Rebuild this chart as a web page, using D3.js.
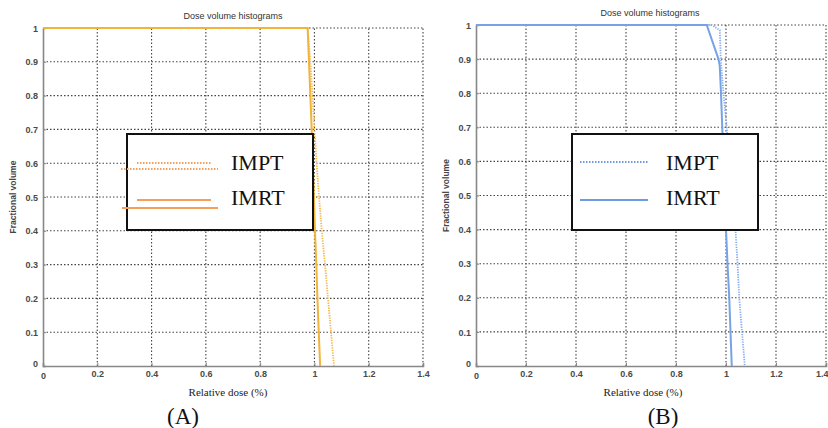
<!DOCTYPE html>
<html>
<head>
<meta charset="utf-8">
<script src="https://cdn.jsdelivr.net/npm/d3@7"></script>
<style>
  body { margin: 0; background: #fff; }
  svg { display: block; }
</style>
</head>
<body>
<div id="chart"></div>
<script>
// DVH curves: [relative dose, fractional volume]
const imptA = [[0, 1], [0.975, 1], [0.985, 0.9], [0.993, 0.8], [1.0, 0.7], [1.008, 0.6], [1.017, 0.5], [1.027, 0.4], [1.039, 0.3], [1.05, 0.2], [1.061, 0.1], [1.072, 0]];
const imrtA = [[0, 1], [0.975, 1], [0.98, 0.9], [0.985, 0.8], [0.99, 0.7], [0.994, 0.6], [0.998, 0.5], [1.002, 0.4], [1.007, 0.3], [1.011, 0.2], [1.016, 0.1], [1.021, 0]];
const imptB = [[0, 1], [0.943, 1], [0.975, 0.985], [0.979, 0.9], [0.99, 0.8], [1.003, 0.7], [1.016, 0.6], [1.028, 0.5], [1.038, 0.4], [1.046, 0.3], [1.053, 0.2], [1.064, 0.1], [1.075, 0]];
const imrtB = [[0, 1], [0.923, 1], [0.97, 0.9], [0.975, 0.88], [0.98, 0.8], [0.985, 0.7], [0.99, 0.6], [0.995, 0.5], [1.0, 0.4], [1.006, 0.3], [1.013, 0.2], [1.018, 0.1], [1.023, 0]];
const xTicks = [0, 0.2, 0.4, 0.6, 0.8, 1, 1.2, 1.4];
const yTicks = [0, 0.1, 0.2, 0.3, 0.4, 0.5, 0.6, 0.7, 0.8, 0.9, 1];
const seriesNames = ['IMPT', 'IMRT'];

const SANS = '"Liberation Sans", Arial, sans-serif';
const SERIF = '"Liberation Serif", "Times New Roman", serif';

const svg = d3.select('#chart').append('svg')
  .attr('width', 828)
  .attr('height', 428);

function drawPanel(p) {
  const x = d3.scaleLinear().domain([0, 1.4]).range([p.left, p.right]);
  const y = d3.scaleLinear().domain([0, 1]).range([p.bottom, p.top]);
  const g = svg.append('g');

  // dotted grid, including the top and right frame
  g.append('g').selectAll('line')
    .data(xTicks.slice(1))
    .join('line')
    .attr('x1', d => x(d)).attr('x2', d => x(d))
    .attr('y1', y(0)).attr('y2', y(1))
    .attr('stroke', '#444').attr('stroke-width', 1.1)
    .attr('stroke-dasharray', '1.5,2');
  g.append('g').selectAll('line')
    .data(yTicks.slice(1))
    .join('line')
    .attr('x1', x(0)).attr('x2', x(1.4))
    .attr('y1', d => y(d)).attr('y2', d => y(d))
    .attr('stroke', '#444').attr('stroke-width', 1.1)
    .attr('stroke-dasharray', '1.5,2');

  // axes
  const xAxis = g.append('g')
    .attr('transform', `translate(0,${p.bottom})`)
    .call(d3.axisBottom(x).tickValues(xTicks).tickSize(-3).tickPadding(6).tickFormat(d3.format('')));
  const yAxis = g.append('g')
    .attr('transform', `translate(${p.left},0)`)
    .call(d3.axisLeft(y).tickValues(yTicks).tickSize(-3).tickPadding(5).tickFormat(d3.format('')));
  [xAxis, yAxis].forEach(a => {
    a.select('.domain').attr('stroke', '#888').attr('stroke-width', 1.6);
    a.selectAll('.tick line').attr('stroke', '#888');
    a.selectAll('.tick text')
      .attr('fill', '#4a4a4a')
      .attr('font-family', SANS)
      .attr('font-size', 9)
      .attr('font-weight', 'bold');
  });
  xAxis.selectAll('.tick text').attr('dy', '0.5em');
  yAxis.selectAll('.tick text').attr('dy', '0.35em');
  xAxis.selectAll('.tick').filter(d => d === 0).select('text').attr('dy', '0.75em');
  yAxis.selectAll('.tick').filter(d => d === 0).select('text').attr('dy', '0');
  // last x label sits at the page edge: keep it inside
  if (p.right > 820) {
    xAxis.selectAll('.tick').filter(d => d === 1.4).select('text')
      .attr('text-anchor', 'end').attr('x', 828 - p.right);
  }

  // curves
  const line = d3.line().x(d => x(d[0])).y(d => y(d[1]));
  g.append('path').datum(p.impt)
    .attr('d', line).attr('fill', 'none')
    .attr('stroke', p.dotColor).attr('stroke-width', 1.8)
    .attr('stroke-dasharray', '1.3,1.2');
  g.append('path').datum(p.imrt)
    .attr('d', line).attr('fill', 'none')
    .attr('stroke', p.color).attr('stroke-width', 2);

  // texts
  svg.append('text')
    .attr('x', p.titleX).attr('y', p.top - 9)
    .attr('text-anchor', 'middle')
    .attr('fill', '#333')
    .attr('font-family', SANS).attr('font-size', 9)
    .text('Dose volume histograms');
  svg.append('text')
    .attr('transform', `translate(${p.ylabX},${(p.top + p.bottom) / 2}) rotate(-90)`)
    .attr('text-anchor', 'middle')
    .attr('fill', '#444')
    .attr('font-family', SANS).attr('font-size', 8.5).attr('font-weight', 'bold')
    .text('Fractional volume');
  svg.append('text')
    .attr('x', p.xlabX).attr('y', 396)
    .attr('text-anchor', 'middle')
    .attr('fill', '#222')
    .attr('font-family', SERIF).attr('font-size', 11)
    .text('Relative dose (%)');
  svg.append('text')
    .attr('x', p.tagX).attr('y', 424)
    .attr('text-anchor', 'middle')
    .attr('fill', '#111')
    .attr('font-family', SERIF).attr('font-size', 23)
    .text(p.tag);

  // legend
  const lg = svg.append('g');
  lg.append('rect')
    .attr('x', p.lgX).attr('y', 134)
    .attr('width', 186).attr('height', 96)
    .attr('fill', '#fff').attr('stroke', '#111').attr('stroke-width', 2);
  p.lgLines.forEach(l => {
    lg.append('line')
      .attr('x1', l.x1).attr('x2', l.x2)
      .attr('y1', l.y).attr('y2', l.y)
      .attr('stroke', p.lgColor)
      .attr('stroke-width', l.dotted ? 1.8 : 2)
      .attr('stroke-dasharray', l.dotted ? '1.5,1.5' : null);
  });
  lg.selectAll('text')
    .data(seriesNames)
    .join('text')
    .attr('x', p.lgX + p.lgTextDx)
    .attr('y', (d, i) => 170 + i * 35)
    .attr('fill', '#111')
    .attr('font-family', SERIF).attr('font-size', 22)
    .text(d => d);
}

drawPanel({
  left: 43, right: 423, top: 28, bottom: 366,
  impt: imptA, imrt: imrtA,
  color: '#f2b33a', dotColor: '#f2b84a',
  titleX: 233, ylabX: 16, xlabX: 228, tagX: 183, tag: '(A)',
  lgX: 127, lgTextDx: 104, lgColor: '#f5a05a',
  lgLines: [
    { x1: 137, x2: 212, y: 163, dotted: true },
    { x1: 121, x2: 218, y: 169, dotted: true },
    { x1: 137, x2: 211, y: 200, dotted: false },
    { x1: 122, x2: 218, y: 208, dotted: false }
  ]
});

drawPanel({
  left: 476, right: 826, top: 25, bottom: 366,
  impt: imptB, imrt: imrtB,
  color: '#77a3e6', dotColor: '#86aeee',
  titleX: 650, ylabX: 449, xlabX: 643, tagX: 663, tag: '(B)',
  lgX: 572, lgTextDx: 94, lgColor: '#6f9be0',
  lgLines: [
    { x1: 580, x2: 648, y: 162, dotted: true },
    { x1: 580, x2: 648, y: 200, dotted: false }
  ]
});
</script>
</body>
</html>
